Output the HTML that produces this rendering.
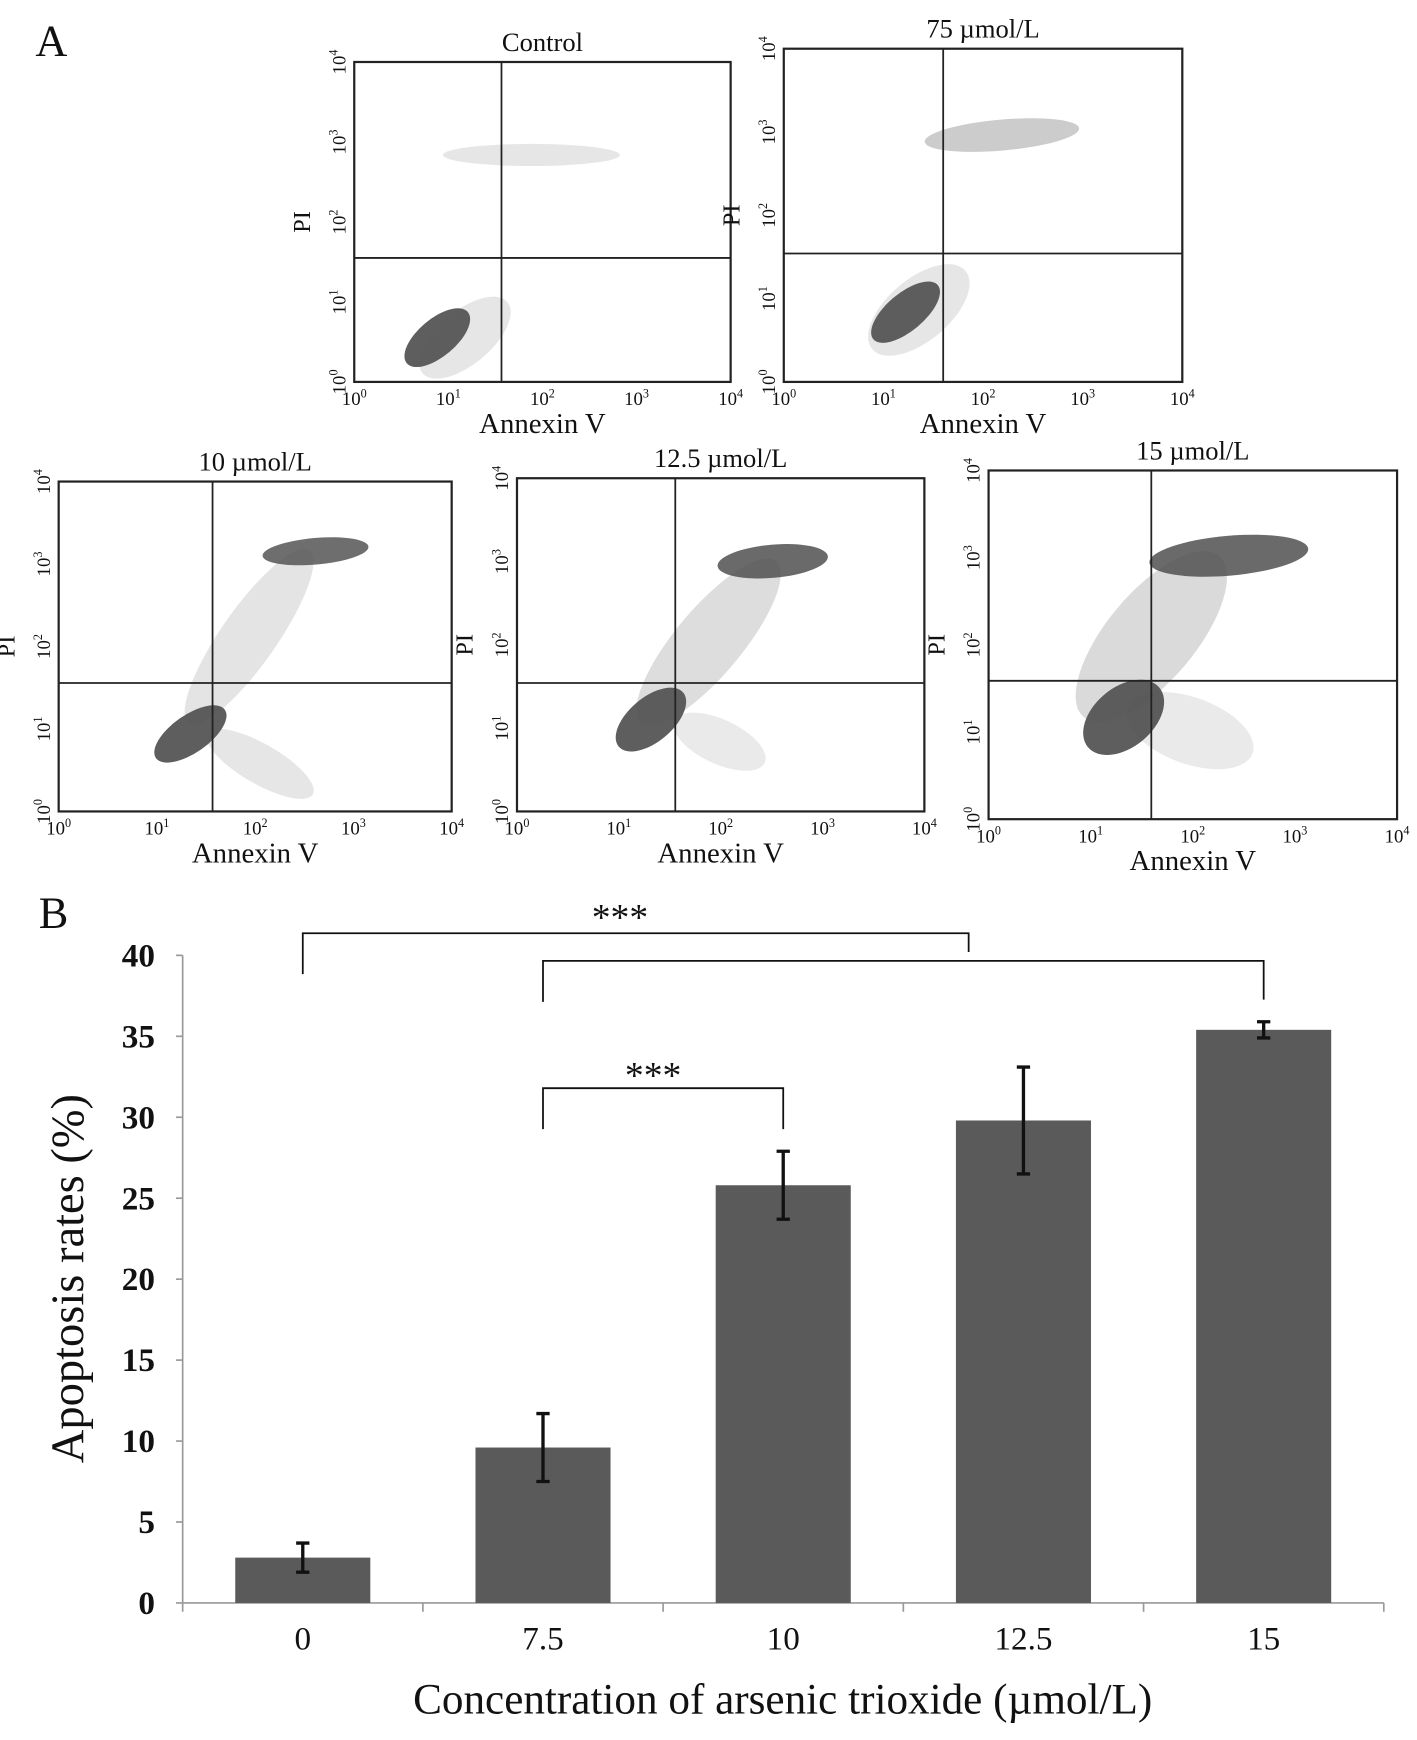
<!DOCTYPE html>
<html><head><meta charset="utf-8">
<style>
html,body{margin:0;padding:0;background:#fff}
svg{display:block}
text{font-family:"Liberation Serif",serif;fill:#111}
</style></head>
<body>
<svg id="fig" width="1417" height="1740" viewBox="0 0 1280 1571.8" preserveAspectRatio="none" xmlns="http://www.w3.org/2000/svg">
<text x="32" y="50" font-size="40">A</text>
<text x="35" y="838" font-size="40">B</text>
<g id="flow"></g>
<g id="bar"></g>
</svg>
<script>
const NS="http://www.w3.org/2000/svg";
function mk(parent,tag,attrs,txt){const e=document.createElementNS(NS,tag);for(const k in attrs)e.setAttribute(k,attrs[k]);if(txt!==undefined)e.textContent=txt;parent.appendChild(e);return e;}

// ---------- Panel A: flow cytometry plots ----------
const plotTitles=["Control","75 µmol/L","10 µmol/L","12.5 µmol/L","15 µmol/L"];
const plotBoxes=[[320,56,660,345],[708,44,1068,345],[53,435,408,733],[467,432,835,733],[893,425,1262,740]];
const gateX=[453,852,192,610,1040];
const gateY=[233,229,617,617,615];
// clusters: [cx,cy,rx,ry,rot,opacity]
const clusters=[
 [[395,305,36,17,-40,0.95],[480,140,80,10,0,0.15],[420,305,50,24,-40,0.15]],
 [[818,282,38,17,-40,0.95],[905,122,70,14,-5,0.3],[830,280,55,28,-40,0.15]],
 [[172,663,38,17,-35,0.95],[285,498,48,12,-5,0.85],[225,575,95,25,-55,0.16],[235,690,55,18,30,0.15]],
 [[588,650,38,20,-40,0.95],[698,507,50,15,-5,0.88],[640,580,95,30,-50,0.2],[650,670,45,20,25,0.12]],
 [[1015,648,42,27,-40,0.95],[1110,502,72,18,-5,0.88],[1040,575,95,40,-50,0.22],[1075,660,60,30,20,0.12]]
];
const flow=document.getElementById('flow');
plotBoxes.forEach((b,i)=>{
  const [x1,y1,x2,y2]=b;
  const g=mk(flow,'g',{});
  
  
  clusters[i].forEach(c=>{
    const e=mk(g,'ellipse',{cx:c[0],cy:c[1],rx:c[2],ry:c[3],transform:`rotate(${c[4]} ${c[0]} ${c[1]})`,fill:'#555','fill-opacity':c[5]});
    
    
  });
  const r=mk(g,'rect',{x:x1,y:y1,width:x2-x1,height:y2-y1,fill:'none',stroke:'#222','stroke-width':2});
  
  
  const v=mk(g,'line',{x1:gateX[i],x2:gateX[i],y1:y1,y2:y2,stroke:'#222','stroke-width':1.6});
  
  
  const h=mk(g,'line',{x1:x1,x2:x2,y1:gateY[i],y2:gateY[i],stroke:'#222','stroke-width':1.6});
  
  
  const t=mk(g,'text',{x:(x1+x2)/2,y:y1-10,'font-size':24,'text-anchor':'middle'},plotTitles[i]);
  
  
  for(let k=0;k<=4;k++){
    const xx=x1+(x2-x1)*k/4;
    const tx=mk(g,'text',{x:xx,y:y2+21,'font-size':17,'text-anchor':'middle'});
    
    
    mk(tx,'tspan',{},'10');mk(tx,'tspan',{dy:-7,'font-size':11},String(k));
    const yy=y2-(y2-y1)*k/4;
    const ty=mk(g,'text',{x:0,y:0,'font-size':17,'text-anchor':'middle',transform:`translate(${x1-8} ${yy}) rotate(-90)`});
    
    
    mk(ty,'tspan',{},'10');mk(ty,'tspan',{dy:-7,'font-size':11},String(k));
  }
  const xl=mk(g,'text',{x:(x1+x2)/2,y:y2+46,'font-size':26,'text-anchor':'middle'},'Annexin V');
  
  
  const yl=mk(g,'text',{x:0,y:0,'font-size':22,'text-anchor':'middle',transform:`translate(${x1-40} ${(y1+y2)/2}) rotate(-90)`},'PI');
  
  
});

// ---------- Panel B: bar chart ----------
const categories=["0","7.5","10","12.5","15"];
const values=[2.8,9.6,25.8,29.8,35.4];
const errors=[0.9,2.1,2.1,3.3,0.5];
const yTicks=[0,5,10,15,20,25,30,35,40];
const AX={x0:165,x1:1250,y0:1448,y1:863,vmax:40};
const yS=v=>AX.y0-(AX.y0-AX.y1)*v/AX.vmax;
const band=(AX.x1-AX.x0)/categories.length;
const xC=i=>AX.x0+band*(i+0.5);
const bar=document.getElementById('bar');
const ax=mk(bar,'path',{d:`M${AX.x0} ${AX.y1}V${AX.y0}H${AX.x1}`,fill:'none',stroke:'#999','stroke-width':1.5});


yTicks.forEach(t=>{
  mk(bar,'line',{x1:AX.x0-6,x2:AX.x0,y1:yS(t),y2:yS(t),stroke:'#999','stroke-width':1.5});
  const l=mk(bar,'text',{x:AX.x0-25,y:yS(t)+10,'font-size':30,'font-weight':'bold','text-anchor':'end'},String(t));
  
  
});
for(let i=0;i<=categories.length;i++){
  const x=AX.x0+band*i;
  mk(bar,'line',{x1:x,x2:x,y1:AX.y0,y2:AX.y0+8,stroke:'#999','stroke-width':1.5});
}
categories.forEach((c,i)=>{
  const r=mk(bar,'rect',{x:xC(i)-61,y:yS(values[i]),width:122,height:AX.y0-yS(values[i]),fill:'#5a5a5a'});
  
  
  const eh=yS(values[i]+errors[i]),el=yS(values[i]-errors[i]);
  const e=mk(bar,'path',{d:`M${xC(i)} ${eh}V${el}M${xC(i)-6} ${eh}H${xC(i)+6}M${xC(i)-6} ${el}H${xC(i)+6}`,stroke:'#111','stroke-width':3,fill:'none'});
  
  
  const l=mk(bar,'text',{x:xC(i),y:AX.y0+42,'font-size':30,'text-anchor':'middle'},c);
  
  
});
const yt=mk(bar,'text',{x:0,y:0,'font-size':42,'text-anchor':'middle',transform:'translate(75 1155) rotate(-90)'},'Apoptosis rates (%)');


const xt=mk(bar,'text',{x:707,y:1548,'font-size':39,'text-anchor':'middle'},'Concentration of arsenic trioxide (µmol/L)');


// significance brackets: [fromIdx,toIdx,y,leftDrop,rightDrop]
const sig=[[0,3.0,843,880,860],[1,4,868,905,903],[1,2,983,1020,1020]];
sig.forEach((s,k)=>{
  const xa=xC(s[0]),xb=s[1]===3.0?875:xC(s[1]);
  const p=mk(bar,'path',{d:`M${xa} ${s[3]}V${s[2]}H${xb}V${s[4]}`,fill:'none',stroke:'#111','stroke-width':1.6});
  
  
});
const s1=mk(bar,'text',{x:560,y:840,'font-size':34,'text-anchor':'middle'},'***');


const s2=mk(bar,'text',{x:590,y:983,'font-size':34,'text-anchor':'middle'},'***');


</script>
</body></html>
